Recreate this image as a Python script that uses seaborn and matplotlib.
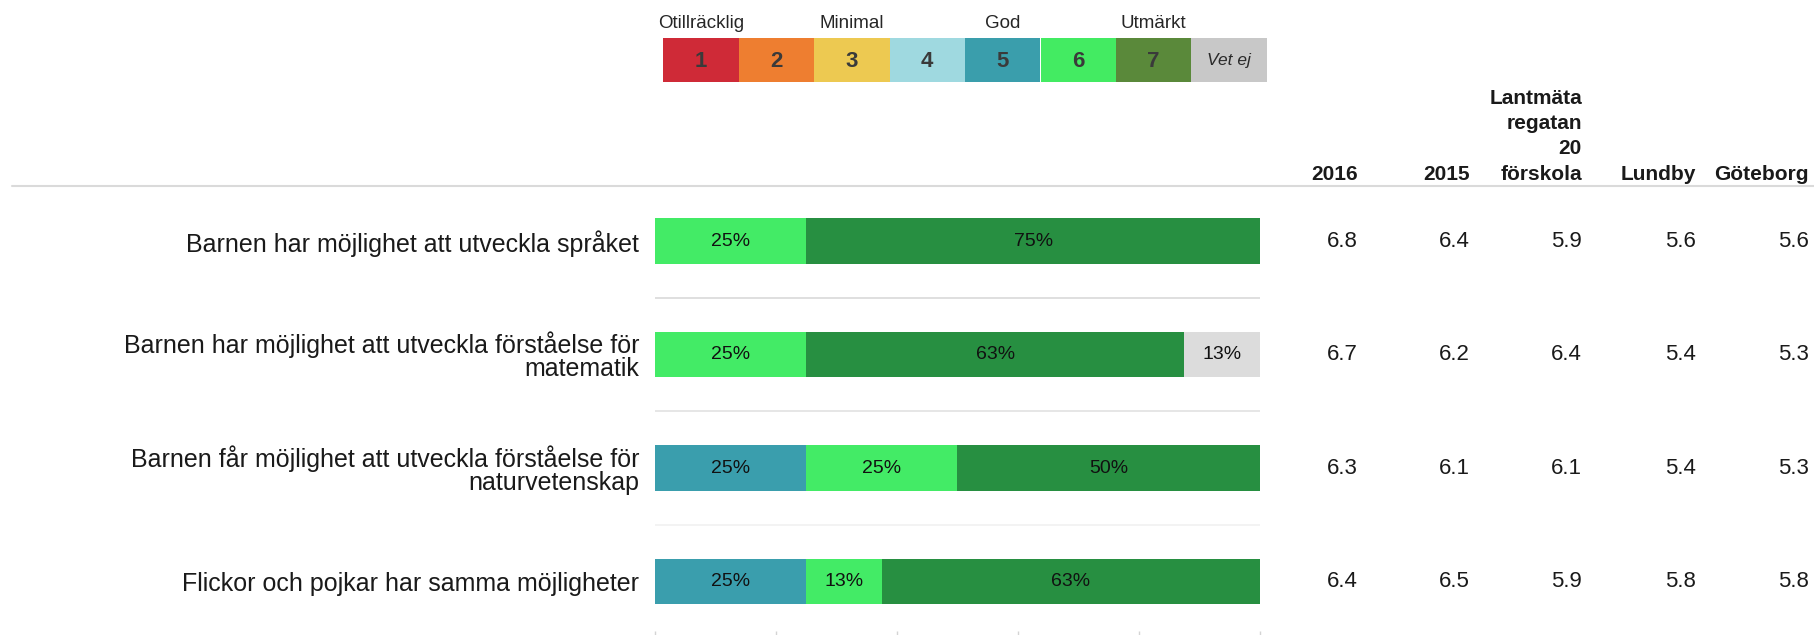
import numpy as np
import pandas as pd
import matplotlib
matplotlib.use("Agg")
import matplotlib.pyplot as plt
import matplotlib.transforms as mtransforms
from matplotlib.lines import Line2D
from matplotlib import font_manager
import seaborn as sns

# ---------------- data ----------------
questions = [
    "Barnen har möjlighet att utveckla språket",
    "Barnen har möjlighet att utveckla förståelse för\nmatematik",
    "Barnen får möjlighet att utveckla förståelse för\nnaturvetenskap",
    "Flickor och pojkar har samma möjligheter",
]
scale_keys = ["1", "2", "3", "4", "5", "6", "7", "Vet ej"]
scale_words = ["Otillräcklig", "Minimal", "God", "Utmärkt"]   # above steps 1, 3, 5, 7

share_1 = [0, 0, 0, 0]
share_2 = [0, 0, 0, 0]
share_3 = [0, 0, 0, 0]
share_4 = [0, 0, 0, 0]
share_5 = [0, 0, 25, 25]
share_6 = [25, 25, 25, 12.5]
share_7 = [75, 62.5, 50, 62.5]
share_vet = [0, 12.5, 0, 0]

columns = ["2016", "2015", "Lantmäta\nregatan\n20\nförskola", "Lundby", "Göteborg"]
val_2016 = [6.8, 6.7, 6.3, 6.4]
val_2015 = [6.4, 6.2, 6.1, 6.5]
val_school = [5.9, 6.4, 6.1, 5.9]
val_lundby = [5.6, 5.4, 5.4, 5.8]
val_gbg = [5.6, 5.3, 5.3, 5.8]

# ---------------- style ----------------
legend_colors = ["#CF2A37", "#EE7E30", "#EDC951", "#9FD9E0", "#3A9EAC", "#43EB62", "#5A893A", "#C8C8C8"]
bar_colors = ["#CF2A37", "#EE7E30", "#EDC951", "#9FD9E0", "#3A9EAD", "#43EB66", "#278F41", "#DCDCDC"]

sns.set_theme(style="white")
installed = {f.name for f in font_manager.fontManager.ttflist}
plt.rcParams["font.family"] = ["Liberation Sans", "DejaVu Sans"]
narrow = "Liberation Sans Narrow" in installed
NARROW_FAM = ["Liberation Sans Narrow", "Liberation Sans", "DejaVu Sans"] if narrow else ["Liberation Sans", "DejaVu Sans"]

W, H = 1815, 635
fig = plt.figure(figsize=(W / 100, H / 100), dpi=100)
fig.patch.set_facecolor("white")


def fx(px):
    return px / W


def fy(py):
    return 1 - py / H


# ---------------- stacked bars ----------------
ax_top_px, ax_bot_px = 184.25, 631
ax = fig.add_axes([fx(655), fy(ax_bot_px), fx(1260) - fx(655), (ax_bot_px - ax_top_px) / H])

shares = np.array([share_1, share_2, share_3, share_4, share_5, share_6, share_7, share_vet], dtype=float)
cum = np.cumsum(shares, axis=0)

for k in reversed(range(len(scale_keys))):
    d = pd.DataFrame({"q": questions, "cum": cum[k]})
    sns.barplot(data=d, x="cum", y="q", orient="h", color=bar_colors[k], saturation=1,
                width=0.4, errorbar=None, linewidth=0, ax=ax)

for k in range(len(scale_keys)):
    left = cum[k] - shares[k]
    for i, v in enumerate(shares[k]):
        if v > 0:
            ax.text(left[i] + v / 2, i, f"{int(np.floor(v + 0.5))}%", ha="center", va="center",
                    fontsize=14, color="#111111")

ax.set_xlim(0, 100)
ax.set_ylim(3.436, -0.5)
for s in ax.spines.values():
    s.set_visible(False)
ax.set_xlabel("")
ax.set_ylabel("")
ax.set_xticks([0, 20, 40, 60, 80, 100])
ax.set_xticklabels([])
ax.tick_params(axis="x", bottom=True, length=5, width=1, color="#d4d4d4", direction="out")
ax.tick_params(axis="y", left=False, length=0, pad=11.5, labelsize=18, labelcolor="#1a1a1a")
for t in ax.get_yticklabels():
    t.set_linespacing(0.95)

for yy, c in zip([0.5, 1.5, 2.5], ["#dcdcdc", "#e4e4e4", "#f2f2f2"]):
    ax.axhline(yy, color=c, lw=1.3, zorder=0)

# header rule
fig.add_artist(Line2D([fx(12), 1.0], [fy(186), fy(186)], color="#dadada", lw=1.5))

# ---------------- value table ----------------
col_right = [1358, 1470, 1582, 1696, 1809]
trans = mtransforms.blended_transform_factory(fig.transFigure, ax.transData)
value_cols = [val_2016, val_2015, val_school, val_lundby, val_gbg]
for j, vals in enumerate(value_cols):
    for i, v in enumerate(vals):
        ax.text(fx(col_right[j]), i, f"{v:.1f}", transform=trans, ha="right", va="center",
                fontsize=16, color="#1a1a1a", clip_on=False)

for j, h in enumerate(columns):
    lines = h.split("\n")
    n = len(lines)
    for m, line in enumerate(lines):
        fig.text(fx(col_right[j]), fy(180 - 25.5 * (n - 1 - m)), line, ha="right", va="baseline",
                 fontsize=15, fontweight="bold", color="#1a1a1a")

# ---------------- colour scale legend ----------------
lx0, lx1, ly0, ly1 = 663, 1267, 38, 82
lax = fig.add_axes([fx(lx0), fy(ly1), fx(lx1) - fx(lx0), (ly1 - ly0) / H])
sns.barplot(x=scale_keys, y=[1] * len(scale_keys), hue=scale_keys, palette=legend_colors, legend=False,
            width=1, saturation=1, linewidth=0, ax=lax)
lax.set_xlim(-0.5, len(scale_keys) - 0.5)
lax.set_ylim(0, 1)
lax.axis("off")
for i, key in enumerate(scale_keys):
    if key.isdigit():
        lax.text(i, 0.47, key, ha="center", va="center", fontsize=16,
                 fontweight="bold", color="#3a3a3a", family=NARROW_FAM)
    else:
        lax.text(i, 0.5, key, ha="center", va="center", fontsize=14 if narrow else 12.5,
                 style="italic", color="#2a2a2a", family=NARROW_FAM)
for m, word in enumerate(scale_words):
    xc = lx0 + (lx1 - lx0) / len(scale_keys) * (2 * m + 0.5)
    fig.text(fx(xc), fy(23), word, ha="center", va="center", fontsize=15.5 if narrow else 13.5,
             color="#262626", family=NARROW_FAM)

fig.savefig("out.png", dpi=100, facecolor="white")
